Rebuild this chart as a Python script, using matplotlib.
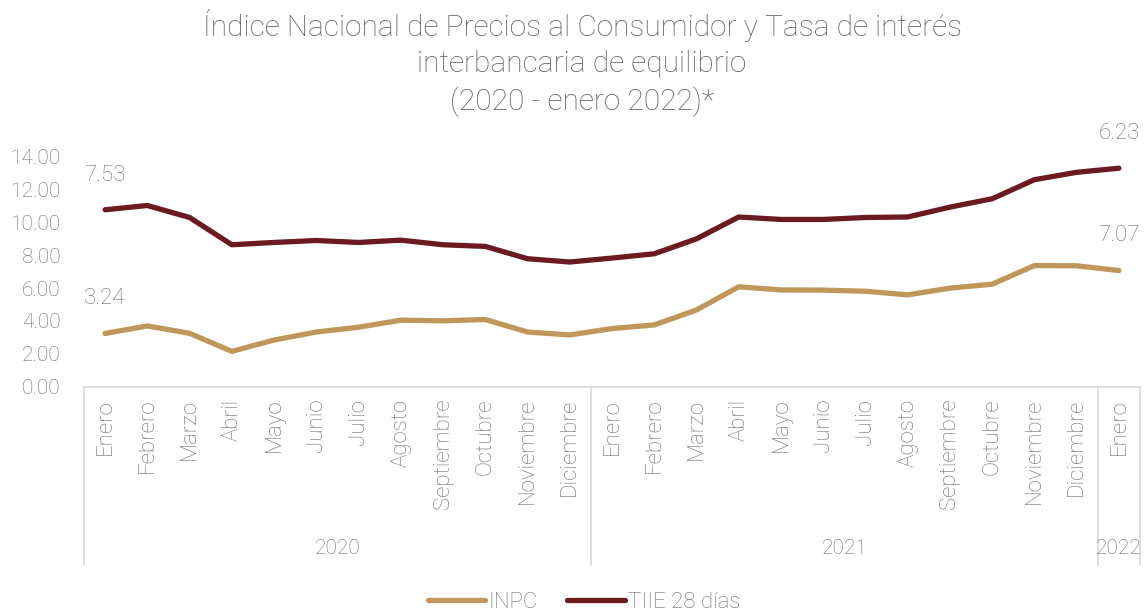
import matplotlib
matplotlib.use("Agg")
import matplotlib.pyplot as plt
from matplotlib import transforms

# ---------------- data ----------------
months = ["Enero", "Febrero", "Marzo", "Abril", "Mayo", "Junio", "Julio",
          "Agosto", "Septiembre", "Octubre", "Noviembre", "Diciembre"]
categories = months + months + ["Enero"]
years = ["2020", "2021", "2022"]
year_sizes = [12, 12, 1]

inpc = [3.24, 3.70, 3.25, 2.15, 2.84, 3.33, 3.62, 4.05, 4.01, 4.09, 3.33, 3.15,
        3.54, 3.76, 4.67, 6.08, 5.89, 5.88, 5.81, 5.59, 6.00, 6.24, 7.37, 7.36,
        7.07]
tiie = [7.53, 7.33, 7.05, 6.49, 5.94, 5.57, 5.16, 4.87, 4.63, 4.45, 4.46, 4.44,
        4.29, 4.33, 4.33, 4.25, 4.29, 4.30, 4.49, 4.74, 4.93, 5.20, 5.23, 5.69,
        6.23]
yticks = [0, 2, 4, 6, 8, 10, 12, 14]

# ---------------- style ----------------
plt.rcParams["font.family"] = ["Roboto", "DejaVu Sans"]
FW = "light"
C_INPC = "#C0965A"
C_TIIE = "#6B1A1F"
TXT = "#6E6E6E"
TITLE = "#5C5C5C"
GRID = "#D9D9D9"

W, H = 1148, 616
fig = plt.figure(figsize=(W / 100, H / 100), dpi=100)
ax = fig.add_axes([84 / W, 1 - 386.7 / H, (1140 - 84) / W, 230 / H])

x = list(range(len(categories)))
stacked = [a + b for a, b in zip(inpc, tiie)]  # stacked line chart

ax.plot(x, inpc, color=C_INPC, lw=3.8, solid_capstyle="round",
        solid_joinstyle="round", label="INPC", clip_on=False)
ax.plot(x, stacked, color=C_TIIE, lw=3.8, solid_capstyle="round",
        solid_joinstyle="round", label="TIIE 28 días", clip_on=False)

# data labels (first and last points)
for i in (0, len(x) - 1):
    for base, val in ((inpc[i], inpc[i]), (stacked[i], tiie[i])):
        ax.annotate(f"{val:.2f}", (x[i], base), xytext=(0, 25),
                    textcoords="offset points", ha="center", va="center",
                    fontsize=16, color=TXT, fontweight=FW,
                    annotation_clip=False)

ax.set_xlim(-0.5, len(x) - 0.5)
ax.set_ylim(0, 14)
ax.set_yticks(yticks)
ax.set_yticklabels([f"{v:.2f}" for v in yticks], fontsize=15, color=TXT,
                   fontweight=FW)
ax.tick_params(axis="y", length=0, pad=17)
ax.set_xticks([])
for s in ("top", "right", "left"):
    ax.spines[s].set_visible(False)
ax.spines["bottom"].set_color(GRID)
ax.spines["bottom"].set_linewidth(1.2)

# multi-level category axis
trans = transforms.blended_transform_factory(ax.transData, ax.transAxes)
px = 1 / 230.0
for i, lab in enumerate(categories):
    ax.text(i, -12 * px, lab, transform=trans, rotation=90, ha="center",
            va="top", fontsize=16, color=TXT, fontweight=FW)
bounds = [-0.5]
for n in year_sizes:
    bounds.append(bounds[-1] + n)
for b in bounds:
    ax.plot([b, b], [0, -178 * px], transform=trans, color=GRID, lw=1.2,
            clip_on=False)
for k, yr in enumerate(years):
    cx = (bounds[k] + bounds[k + 1]) / 2
    ax.text(cx, -162 * px, yr, transform=trans, ha="center", va="center",
            fontsize=15, color=TXT, fontweight=FW)

# title
tlines = ["Índice Nacional de Precios al Consumidor y Tasa de interés",
          "interbancaria de equilibrio", "(2020 - enero 2022)*"]
for k, t in enumerate(tlines):
    fig.text(582 / W, 1 - (25 + 38.5 * k) / H, t, ha="center", va="center",
             fontsize=21.5, color=TITLE, fontweight=FW)

# legend
leg = fig.legend(loc="center", bbox_to_anchor=(584 / W, 1 - 602 / H), ncol=2,
                 frameon=False, fontsize=16, handlelength=2.6,
                 handletextpad=0.15, columnspacing=1.3)
for t in leg.get_texts():
    t.set_color(TXT)
    t.set_fontweight(FW)

fig.savefig("out.png", dpi=100)
